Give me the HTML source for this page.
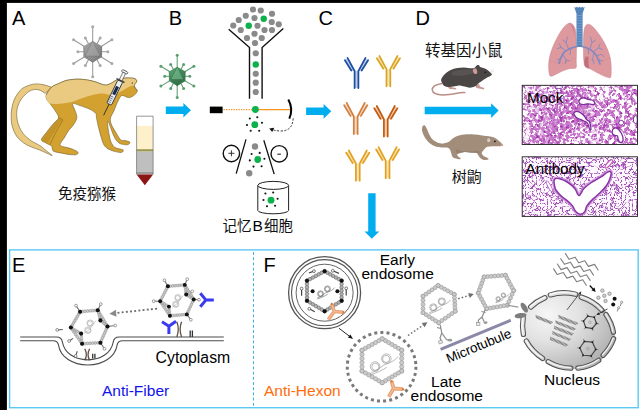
<!DOCTYPE html>
<html><head><meta charset="utf-8"><title>Figure</title>
<style>html,body{margin:0;padding:0;background:#fff;overflow:hidden}svg{display:block}text{font-family:"Liberation Sans","Noto Sans CJK SC",sans-serif}</style>
</head><body>
<svg width="640" height="410" viewBox="0 0 640 410">
<defs>
<linearGradient id="gvir" x1="0" y1="0" x2="1" y2="1"><stop offset="0" stop-color="#9c9c9c"/><stop offset="0.5" stop-color="#7e7e7e"/><stop offset="1" stop-color="#636363"/></linearGradient>
<linearGradient id="grvir" x1="0" y1="0" x2="1" y2="1"><stop offset="0" stop-color="#5fa877"/><stop offset="0.5" stop-color="#44855b"/><stop offset="1" stop-color="#34704a"/></linearGradient>
<radialGradient id="nuc" cx="0.28" cy="0.3" r="0.85"><stop offset="0" stop-color="#f6f6f6"/><stop offset="0.4" stop-color="#e2e2e2"/><stop offset="0.8" stop-color="#bdbdbd"/><stop offset="1" stop-color="#a8a8a8"/></radialGradient>
<linearGradient id="seg" x1="0" y1="0" x2="1" y2="1"><stop offset="0" stop-color="#f2f2f2"/><stop offset="1" stop-color="#c8c8c8"/></linearGradient>
<pattern id="hatch" width="1.3" height="4" patternUnits="userSpaceOnUse"><rect width="1.3" height="4" fill="#c6c6c6"/><rect width="0.75" height="4" fill="#7e7e7e"/></pattern>
<filter id="tex1" x="0" y="0" width="100%" height="100%" color-interpolation-filters="sRGB">
 <feTurbulence type="fractalNoise" baseFrequency="0.36" numOctaves="2" seed="7"/>
 <feColorMatrix type="matrix" values="1 0 0 0 0  1 0 0 0 0  1 0 0 0 0  0 0 0 0 1" result="n"/>
 <feTurbulence type="fractalNoise" baseFrequency="0.03" numOctaves="1" seed="3"/>
 <feColorMatrix type="matrix" values="1 0 0 0 0  1 0 0 0 0  1 0 0 0 0  0 0 0 0 1" result="lo"/>
 <feComposite in="n" in2="lo" operator="arithmetic" k1="0" k2="1" k3="0.4" k4="-0.2" result="mix"/>
 <feColorMatrix in="mix" type="matrix" values="0 0 0 0 1  0 0 0 0 1  0 0 0 0 1  8 0 0 0 -4.02" result="m"/>
 <feComposite in="m" in2="SourceGraphic" operator="in"/>
</filter>
<filter id="tex1b" x="0" y="0" width="100%" height="100%" color-interpolation-filters="sRGB">
 <feTurbulence type="fractalNoise" baseFrequency="0.3" numOctaves="2" seed="11" result="n"/>
 <feColorMatrix in="n" type="matrix" values="0 0 0 0 0.62  0 0 0 0 0.18  0 0 0 0 0.66  0 4 0 0 -1.95" result="m"/>
 <feComposite in="m" in2="SourceGraphic" operator="in"/>
</filter>
<filter id="tex2" x="0" y="0" width="100%" height="100%" color-interpolation-filters="sRGB">
 <feTurbulence type="turbulence" baseFrequency="0.27" numOctaves="1" seed="5" result="n"/>
 <feColorMatrix in="n" type="matrix" values="0 0 0 0 0.64  0 0 0 0 0.31  0 0 0 0 0.72  -10 0 0 0 1.2" result="m"/>
 <feComposite in="m" in2="SourceGraphic" operator="in"/>
</filter>
<filter id="tex1c" x="0" y="0" width="100%" height="100%" color-interpolation-filters="sRGB">
 <feTurbulence type="fractalNoise" baseFrequency="0.2" numOctaves="2" seed="21" result="n"/>
 <feColorMatrix in="n" type="matrix" values="0 0 0 0 1  0 0 0 0 1  0 0 0 0 1  12 0 0 0 -6.3" result="m"/>
 <feComposite in="m" in2="SourceGraphic" operator="in"/>
</filter>
<linearGradient id="fadeR" x1="0" y1="0" x2="1" y2="0"><stop offset="0" stop-color="#fff" stop-opacity="0"/><stop offset="0.45" stop-color="#fff" stop-opacity="1"/><stop offset="1" stop-color="#fff" stop-opacity="1"/></linearGradient>
<linearGradient id="fadeL" x1="0" y1="0" x2="1" y2="0"><stop offset="0" stop-color="#fff" stop-opacity="1"/><stop offset="1" stop-color="#fff" stop-opacity="0"/></linearGradient>
<pattern id="mesh" width="1.5" height="1.5" patternUnits="userSpaceOnUse" patternTransform="rotate(30)"><path d="M0 0 H1.5 M0 0 V1.5" stroke="#e6e6e6" stroke-width="0.35" fill="none"/></pattern>
<linearGradient id="segg" gradientUnits="userSpaceOnUse" x1="530" y1="295" x2="610" y2="368"><stop offset="0" stop-color="#ececec"/><stop offset="0.5" stop-color="#d0d0d0"/><stop offset="1" stop-color="#a9a9a9"/></linearGradient>
</defs>

<rect x="0" y="0" width="640" height="410" fill="#fff"/>
<text x="12" y="25" font-size="20" fill="#000" text-anchor="start" >A</text>
<g stroke="#9a9a9a" stroke-width="1.05" fill="#a8a8a8"><line x1="92.7" y1="51.7" x2="92.7" y2="26.8"/><line x1="92.7" y1="51.7" x2="92.7" y2="76.7"/><line x1="92.7" y1="51.7" x2="73.6" y2="39.7"/><line x1="92.7" y1="51.7" x2="111.9" y2="39.7"/><line x1="92.7" y1="51.7" x2="73.6" y2="63.5"/><line x1="92.7" y1="51.7" x2="111.9" y2="63.5"/><line x1="92.7" y1="51.7" x2="85.4" y2="38.1"/><line x1="92.7" y1="51.7" x2="100.1" y2="38.1"/><line x1="92.7" y1="51.7" x2="85.4" y2="65.4"/><line x1="92.7" y1="51.7" x2="100.1" y2="65.4"/><line x1="92.7" y1="51.7" x2="77.9" y2="51.75"/><line x1="92.7" y1="51.7" x2="107.8" y2="51.75"/><circle cx="92.7" cy="26.8" r="1.5" stroke="none"/><circle cx="92.7" cy="76.7" r="1.5" stroke="none"/><circle cx="73.6" cy="39.7" r="1.5" stroke="none"/><circle cx="111.9" cy="39.7" r="1.5" stroke="none"/><circle cx="73.6" cy="63.5" r="1.5" stroke="none"/><circle cx="111.9" cy="63.5" r="1.5" stroke="none"/><circle cx="85.4" cy="38.1" r="1.5" stroke="none"/><circle cx="100.1" cy="38.1" r="1.5" stroke="none"/><circle cx="85.4" cy="65.4" r="1.5" stroke="none"/><circle cx="100.1" cy="65.4" r="1.5" stroke="none"/><circle cx="77.9" cy="51.75" r="1.5" stroke="none"/><circle cx="107.8" cy="51.75" r="1.5" stroke="none"/></g>
<polygon points="92.7,40.9 102.05,46.3 102.05,57.1 92.7,62.5 83.35,57.1 83.35,46.3" fill="url(#gvir)"/>
<polygon points="92.7,40.9 102.05,46.3 102.05,57.1 92.7,62.5 83.35,57.1 83.35,46.3" fill="url(#mesh)" opacity="0.75"/>
<polygon points="92.7,41.2 85.2,56 100.2,56" fill="#bdbdbd" opacity="0.35"/>
<path d="M92.7 41.2 L85.2 56 L100.2 56 Z M85.2 56 L92.7 62.4 L100.2 56 M85.2 56 L83.4 46.4 M100.2 56 L102 46.4" fill="none" stroke="#5e5e5e" stroke-width="0.35" opacity="0.8"/>
<path d="M51.5 87.2 C50.08 86.77 45.85 85.13 43 84.6 C40.15 84.07 37.23 83.68 34.4 84 C31.57 84.32 28.35 85.45 26 86.5 C23.65 87.55 22.22 88.22 20.3 90.3 C18.38 92.38 15.93 95.88 14.5 99 C13.07 102.12 12.25 105.67 11.7 109 C11.15 112.33 11.07 115.97 11.2 119 C11.33 122.03 11.62 124.37 12.5 127.2 C13.38 130.03 14.68 133.4 16.5 136 C18.32 138.6 20.98 141 23.4 142.8 C25.82 144.6 28.4 145.63 31 146.8 C33.6 147.97 36.5 148.8 39 149.8 C41.5 150.8 43.78 151.83 46 152.8 C48.22 153.77 52.3 155.97 52.3 155.6 C52.3 155.23 47.95 152.2 46 150.6 C44.05 149 42.43 147.27 40.6 146 C38.77 144.73 36.82 144.05 35 143 C33.18 141.95 31.62 141.2 29.7 139.7 C27.78 138.2 25.2 136.08 23.5 134 C21.8 131.92 20.58 129.7 19.5 127.2 C18.42 124.7 17.43 121.87 17 119 C16.57 116.13 16.48 112.83 16.9 110 C17.32 107.17 18.42 104.25 19.5 102 C20.58 99.75 21.9 98.2 23.4 96.5 C24.9 94.8 26.67 92.97 28.5 91.8 C30.33 90.63 32.48 89.75 34.4 89.5 C36.32 89.25 38.18 89.65 40 90.3 C41.82 90.95 44.42 92.88 45.3 93.4Z" fill="#e9ca80" stroke="#6f5f30" stroke-width="0.6" stroke-linejoin="round"/>
<path d="M46.2 95 C46.95 92.92 49.3 89.15 51.5 87.2 C53.7 85.25 56.98 84.42 59.4 83.3 C61.82 82.18 63.67 81.15 66 80.5 C68.33 79.85 71.07 79.62 73.4 79.4 C75.73 79.18 77.65 79.1 80 79.2 C82.35 79.3 84.9 79.55 87.5 80 C90.1 80.45 93.35 81.23 95.6 81.9 C97.85 82.57 99.17 83.48 101 84 C102.83 84.52 104.85 85.17 106.6 85 C108.35 84.83 109.93 83.78 111.5 83 C113.07 82.22 114.33 81.03 116 80.3 C117.67 79.57 119.68 78.98 121.5 78.6 C123.32 78.22 124.83 78.03 126.9 78 C128.97 77.97 132.25 77.9 133.9 78.4 C135.55 78.9 136.75 79.77 136.8 81 C136.85 82.23 134.13 84.22 134.2 85.8 C134.27 87.38 136.93 89.22 137.2 90.5 C137.47 91.78 136.48 92.58 135.8 93.5 C135.12 94.42 134.33 95.32 133.1 96 C131.87 96.68 130.22 97.7 128.4 97.6 C126.58 97.5 123.77 95.17 122.2 95.4 C120.63 95.63 120.03 97.32 119 99 C117.97 100.68 116.9 103.4 116 105.5 C115.1 107.6 114.52 109.52 113.6 111.6 C112.68 113.68 110.9 115.93 110.5 118 C110.1 120.07 110.42 121.79 111.2 124 C111.98 126.21 113.63 128.62 115.2 131.25 C116.77 133.88 118.97 138.24 120.6 139.8 C122.23 141.36 123.45 140.2 125 140.6 C126.55 141 129.45 141.52 129.9 142.2 C130.35 142.88 128.93 144.35 127.7 144.7 C126.47 145.05 123.95 144.58 122.5 144.3 C121.05 144.02 120.12 143.78 119 143 C117.88 142.22 116.8 141.1 115.8 139.6 C114.8 138.1 113.87 136.02 113 134 C112.13 131.98 111.33 129.5 110.6 127.5 C109.87 125.5 109.1 122.98 108.6 122 C108.1 121.02 107.7 120.6 107.6 121.6 C107.5 122.6 107.73 125.77 108 128 C108.27 130.23 108.77 132.83 109.2 135 C109.63 137.17 109.85 139.1 110.6 141 C111.35 142.9 112.47 145.13 113.7 146.4 C114.93 147.67 116.42 148.02 118 148.6 C119.58 149.18 122.63 149.25 123.2 149.9 C123.77 150.55 122.68 152.22 121.4 152.5 C120.12 152.78 117.32 152.02 115.5 151.6 C113.68 151.18 112 150.63 110.5 150 C109 149.37 107.68 148.84 106.5 147.8 C105.32 146.76 104.4 145.88 103.4 143.75 C102.4 141.62 101.37 137.96 100.5 135 C99.63 132.04 98.88 128.97 98.2 126 C97.52 123.03 96.8 119.28 96.4 117.2 C96 115.12 96.87 114.82 95.8 113.5 C94.73 112.18 92.63 110.62 90 109.3 C87.37 107.98 82.9 106.55 80 105.6 C77.1 104.65 73.38 102.67 72.6 103.6 C71.82 104.53 74.6 108.8 75.3 111.2 C76 113.6 77.18 115.62 76.8 118 C76.42 120.38 74.34 123.45 73 125.5 C71.66 127.55 70.17 128.3 68.75 130.3 C67.33 132.3 65.96 135.15 64.5 137.5 C63.04 139.85 60.17 142.85 60 144.4 C59.83 145.95 62.3 146.28 63.5 146.8 C64.7 147.32 65.62 147.07 67.2 147.5 C68.78 147.93 71.23 148.65 73 149.4 C74.77 150.15 77.2 151.13 77.8 152 C78.4 152.87 77.9 154.17 76.6 154.6 C75.3 155.03 72.43 154.83 70 154.6 C67.57 154.37 64.68 153.73 62 153.2 C59.32 152.67 55.53 152.18 53.9 151.4 C52.27 150.62 52.58 149.4 52.2 148.5 C51.82 147.6 52.63 146.92 51.6 146 C50.57 145.08 47.7 144.05 46 143 C44.3 141.95 41.4 141.37 41.4 139.7 C41.4 138.03 44.4 135.2 46 133 C47.6 130.8 49.42 128.42 51 126.5 C52.58 124.58 54.23 123.03 55.5 121.5 C56.77 119.97 58.68 119.13 58.6 117.3 C58.52 115.47 56.43 112.78 55 110.5 C53.57 108.22 51.33 105.4 50 103.6 C48.67 101.8 47.63 101.13 47 99.7 C46.37 98.27 45.45 97.08 46.2 95Z" fill="#d3a130" stroke="#6f5f30" stroke-width="0.6" stroke-linejoin="round"/>
<path d="M58.8 117.5 L62.5 119.5 L52 136 L47.5 143 L51.6 146 L46 143 L41.4 139.7 Z" fill="#b98a24" opacity="0.55"/>
<path d="M58.6 117.3 L63 120 L56 132 L50 144.5" fill="none" stroke="#8a6c1e" stroke-width="0.6"/>
<path d="M46.2 95 C46.95 92.92 49.3 89.15 51.5 87.2 C53.7 85.25 56.98 84.42 59.4 83.3 C61.82 82.18 63.67 81.15 66 80.5 C68.33 79.85 71.07 79.62 73.4 79.4 C75.73 79.18 77.65 79.1 80 79.2 C82.35 79.3 84.9 79.55 87.5 80 C90.1 80.45 93.35 81.23 95.6 81.9 C97.85 82.57 99.17 83.48 101 84 C102.83 84.52 104.85 85.17 106.6 85 C108.35 84.83 109.93 83.78 111.5 83 C113.07 82.22 114.33 81.03 116 80.3 C117.67 79.57 119.68 78.98 121.5 78.6 C123.32 78.22 124.83 78.03 126.9 78 C128.97 77.97 132.25 77.9 133.9 78.4 C135.55 78.9 136.75 79.8 136.8 81 C136.85 82.2 135.08 84.8 134.2 85.6 C133.32 86.4 132.98 85.23 131.5 85.8 C130.02 86.37 127.55 87.8 125.3 89 C123.05 90.2 120.34 92 118 93 C115.66 94 113.42 94.87 111.25 95 C109.08 95.13 106.83 94.03 105 93.8 C103.17 93.57 102.47 93.37 100.3 93.6 C98.13 93.83 94.72 94.55 92 95.2 C89.28 95.85 86.67 96.62 84 97.5 C81.33 98.38 78.28 99.7 76 100.5 C73.72 101.3 72.97 101.75 70.3 102.3 C67.63 102.85 63.38 103.58 60 103.8 C56.62 104.02 52.17 104.28 50 103.6 C47.83 102.92 47.63 101.13 47 99.7 C46.37 98.27 45.45 97.08 46.2 95Z" fill="#e9ca80"/>
<path d="M46.2 95 C47.08 93.7 49.3 89.15 51.5 87.2 C53.7 85.25 56.98 84.42 59.4 83.3 C61.82 82.18 63.67 81.15 66 80.5 C68.33 79.85 71.07 79.62 73.4 79.4 C75.73 79.18 77.65 79.1 80 79.2 C82.35 79.3 84.9 79.55 87.5 80 C90.1 80.45 93.35 81.23 95.6 81.9 C97.85 82.57 99.17 83.48 101 84 C102.83 84.52 104.85 85.17 106.6 85 C108.35 84.83 109.93 83.78 111.5 83 C113.07 82.22 114.33 81.03 116 80.3 C117.67 79.57 119.68 78.98 121.5 78.6 C123.32 78.22 124.83 78.03 126.9 78 C128.97 77.97 132.25 77.9 133.9 78.4 C135.55 78.9 136.75 79.77 136.8 81 C136.85 82.23 134.13 84.22 134.2 85.8 C134.27 87.38 136.7 89.72 137.2 90.5" fill="none" stroke="#6f5f30" stroke-width="0.6"/>
<circle cx="132.3" cy="83" r="0.7" fill="#5a4a20"/>
<g transform="translate(124.8,71.7) rotate(25.9)"><line x1="0" y1="36" x2="0" y2="48.5" stroke="#2a2a2a" stroke-width="0.8"/><rect x="-3.2" y="-1" width="6.4" height="2.4" rx="1.1" fill="#eef2f8" stroke="#3a3a3a" stroke-width="0.7"/><rect x="-1.5" y="1.3" width="3" height="9" fill="#f4f6fa" stroke="#444" stroke-width="0.6"/><rect x="-4.6" y="9.1" width="9.2" height="1.5" rx="0.7" fill="#444"/><rect x="-2.6" y="10.4" width="5.2" height="25.6" rx="1.2" fill="#e9eff7" stroke="#2a2a2a" stroke-width="0.8"/><rect x="-1.6" y="16.5" width="3.2" height="9" fill="#1d2a4a"/><g stroke="#2a3350" stroke-width="0.6"><line x1="-1.8" y1="28" x2="0.8" y2="28"/><line x1="-1.8" y1="30" x2="0.8" y2="30"/><line x1="-1.8" y1="32" x2="0.8" y2="32"/><line x1="-1.8" y1="34" x2="0.8" y2="34"/></g></g>
<g><rect x="136.6" y="116.2" width="16.5" height="58.2" fill="#fff"/><rect x="136.6" y="125.8" width="16.5" height="23.6" fill="#fdf0cb"/><rect x="136.6" y="149.2" width="16.5" height="2.4" fill="#9b9a4e"/><rect x="136.6" y="151.6" width="16.5" height="20.6" fill="#bfbfbf"/><rect x="136.6" y="172" width="16.5" height="2.4" fill="#9c9c9c"/><polygon points="136.6,174.4 153.1,174.4 144.85,185.2" fill="#8c1515"/><path d="M136.6 174.4 V116.2 H153.1 V174.4" fill="none" stroke="#6a6a6a" stroke-width="0.7"/></g>
<text x="58" y="198.5" font-size="14.5" fill="#111" text-anchor="start">免疫猕猴</text>
<polygon points="165.8,106.45 183.4,106.45 183.4,102.9 190.9,110.2 183.4,117.5 183.4,113.95 165.8,113.95" fill="#00aeef"/>
<text x="168.8" y="25" font-size="20" fill="#000" text-anchor="start" >B</text>
<g stroke="#5b9f70" stroke-width="1.05" fill="#5b9f70"><line x1="177.2" y1="76.3" x2="177.2" y2="55.3"/><line x1="177.2" y1="76.3" x2="177.2" y2="97.5"/><line x1="177.2" y1="76.3" x2="160.9" y2="66.2"/><line x1="177.2" y1="76.3" x2="193.9" y2="66.2"/><line x1="177.2" y1="76.3" x2="160.9" y2="86.1"/><line x1="177.2" y1="76.3" x2="193.9" y2="86.1"/><line x1="177.2" y1="76.3" x2="170.7" y2="64.4"/><line x1="177.2" y1="76.3" x2="183.6" y2="64.4"/><line x1="177.2" y1="76.3" x2="170.7" y2="88.5"/><line x1="177.2" y1="76.3" x2="183.6" y2="88.5"/><line x1="177.2" y1="76.3" x2="164.7" y2="76.3"/><line x1="177.2" y1="76.3" x2="189.8" y2="76.3"/><circle cx="177.2" cy="55.3" r="1.5" stroke="none"/><circle cx="177.2" cy="97.5" r="1.5" stroke="none"/><circle cx="160.9" cy="66.2" r="1.5" stroke="none"/><circle cx="193.9" cy="66.2" r="1.5" stroke="none"/><circle cx="160.9" cy="86.1" r="1.5" stroke="none"/><circle cx="193.9" cy="86.1" r="1.5" stroke="none"/><circle cx="170.7" cy="64.4" r="1.5" stroke="none"/><circle cx="183.6" cy="64.4" r="1.5" stroke="none"/><circle cx="170.7" cy="88.5" r="1.5" stroke="none"/><circle cx="183.6" cy="88.5" r="1.5" stroke="none"/><circle cx="164.7" cy="76.3" r="1.5" stroke="none"/><circle cx="189.8" cy="76.3" r="1.5" stroke="none"/></g>
<polygon points="177.2,66.7 185.51,71.5 185.51,81.1 177.2,85.9 168.89,81.1 168.89,71.5" fill="url(#grvir)"/>
<polygon points="177.2,67 171,79.5 183.4,79.5" fill="#7cc394" opacity="0.55"/>
<polygon points="177.2,85.8 171,79.5 183.4,79.5" fill="#2f6b45" opacity="0.5"/>
<g stroke="#2d6040" stroke-width="0.4" fill="none" opacity="0.7"><polygon points="177.2,67 171,79.5 183.4,79.5"/><line x1="171" y1="79.5" x2="168.9" y2="71.5"/><line x1="183.4" y1="79.5" x2="185.5" y2="71.5"/><line x1="171" y1="79.5" x2="177.2" y2="85.8"/><line x1="183.4" y1="79.5" x2="177.2" y2="85.8"/></g>
<path d="M228.7 29.3 L249.5 47.5 V98.8 M283.3 28.6 L262.1 47.5 V98.8" fill="none" stroke="#111" stroke-width="1.4" stroke-linejoin="miter"/>
<g fill="#8a8a8a"><circle cx="253" cy="9.5" r="3.1"/><circle cx="260.75" cy="10.5" r="3.1"/><circle cx="272" cy="13.75" r="3.1"/><circle cx="245.75" cy="15.75" r="3.1"/><circle cx="254.5" cy="18" r="3.1"/><circle cx="238.75" cy="20" r="3.1"/><circle cx="271.75" cy="22" r="3.1"/><circle cx="233.25" cy="25.5" r="3.1"/><circle cx="257.5" cy="25.75" r="3.1"/><circle cx="278.75" cy="24.25" r="3.1"/><circle cx="240.75" cy="30" r="3.1"/><circle cx="264.5" cy="30" r="3.1"/><circle cx="272" cy="30" r="3.1"/><circle cx="254.5" cy="33.75" r="3.1"/><circle cx="247" cy="38" r="3.1"/><circle cx="261.75" cy="38" r="3.1"/><circle cx="255" cy="43" r="3.1"/><circle cx="255.75" cy="53.25" r="3.1"/><circle cx="255.75" cy="73.75" r="3.1"/><circle cx="255.75" cy="82.7" r="3.1"/><circle cx="255.75" cy="92" r="3.1"/></g>
<g fill="#0db14b"><circle cx="263.75" cy="18.75" r="3.2"/><circle cx="248.75" cy="25.75" r="3.2"/><circle cx="255.75" cy="64.5" r="3.2"/></g>
<rect x="209.8" y="106.6" width="12.8" height="6.6" fill="#000"/>
<line x1="223.5" y1="109.6" x2="252" y2="109.6" stroke="#f7941d" stroke-width="1.3" stroke-dasharray="1.3 1.2"/>
<line x1="256" y1="109.6" x2="291.5" y2="109.6" stroke="#f7941d" stroke-width="1.3"/>
<circle cx="255.4" cy="109.5" r="3.4" fill="#0db14b"/>
<path d="M288.3 99.6 Q293.6 109 289.3 118.6" fill="none" stroke="#000" stroke-width="2"/>
<path d="M293.2 118.3 Q292.5 131.5 280 131 Q274.5 130.6 272.5 129.6" fill="none" stroke="#222" stroke-width="0.9" stroke-dasharray="2.2 1.4"/>
<polygon points="269.2,128.4 274.2,127.8 272.2,132" fill="#111"/>
<circle cx="254.8" cy="124.7" r="3.4" fill="#0db14b"/>
<g fill="#111"><circle cx="249.8" cy="118.5" r="1.05"/><circle cx="257.3" cy="117.2" r="1.05"/><circle cx="262" cy="122.8" r="1.05"/><circle cx="247" cy="125" r="1.05"/><circle cx="250.7" cy="130.7" r="1.05"/><circle cx="259.2" cy="130.7" r="1.05"/></g>
<path d="M246 139.4 L236.2 173.6 M263.8 140.3 L274.2 174.1" stroke="#111" stroke-width="1.3" fill="none"/>
<circle cx="231.4" cy="153.5" r="8.2" fill="#fff" stroke="#111" stroke-width="1.4"/>
<circle cx="279.2" cy="153.8" r="8.2" fill="#fff" stroke="#111" stroke-width="1.4"/>
<path d="M228.4 153.3 H234.4 M231.4 150.3 V156.3" stroke="#222" stroke-width="0.9"/>
<path d="M277.3 154.2 H280.9" stroke="#222" stroke-width="1.1"/>
<circle cx="255" cy="146.5" r="3.2" fill="#8a8a8a"/>
<circle cx="257.7" cy="159.5" r="3.4" fill="#0db14b"/>
<g fill="#111"><circle cx="251.6" cy="154" r="1.05"/><circle cx="259.7" cy="152.9" r="1.05"/><circle cx="264.4" cy="158.7" r="1.05"/><circle cx="249.8" cy="160.4" r="1.05"/><circle cx="253.5" cy="166.6" r="1.05"/><circle cx="261.6" cy="166.2" r="1.05"/></g>
<circle cx="249.2" cy="173.2" r="3.2" fill="#8a8a8a"/>
<path d="M257.8 185.4 V210.4 A15.4 3.4 0 0 0 288.6 210.4 V185.4" fill="#fff" stroke="#222" stroke-width="1"/>
<ellipse cx="273.2" cy="185.4" rx="15.4" ry="4" fill="#fff" stroke="#222" stroke-width="1"/>
<circle cx="271" cy="200.2" r="3.4" fill="#0db14b"/>
<g fill="#111"><circle cx="265.4" cy="193.5" r="1.05"/><circle cx="273.2" cy="192.5" r="1.05"/><circle cx="277.6" cy="198.7" r="1.05"/><circle cx="263.5" cy="200" r="1.05"/><circle cx="267" cy="206.2" r="1.05"/><circle cx="275.1" cy="205.7" r="1.05"/></g>
<text x="222.6" y="231.2" font-size="14.5" fill="#111" text-anchor="start">记忆</text>
<text x="252.6" y="231.2" font-size="15.5" fill="#000" text-anchor="start" >B</text>
<text x="264" y="231.2" font-size="14.5" fill="#111" text-anchor="start">细胞</text>
<polygon points="306.1,107.6 323.6,107.6 323.6,104.05 331.3,111.35 323.6,118.65 323.6,115.1 306.1,115.1" fill="#00aeef"/>
<text x="318.4" y="25" font-size="20" fill="#000" text-anchor="start" >C</text>
<g stroke="#1f4fa3" stroke-width="3.6" fill="none" opacity="0.28"><path d="M356.5 88.1 V71.04"/><path d="M353 70.84 L346.2 59.1"/><path d="M360 70.84 L366.8 59.1"/></g><g stroke="#1f4fa3" stroke-width="1.75" fill="none" stroke-linecap="round"><path d="M354.6 88.1 V71.04 L347.5 57.9"/><path d="M358.4 88.1 V71.04 L365.5 57.9"/><path d="M351.3 70.44 L344.9 60.2"/><path d="M361.7 70.44 L368.1 60.2"/></g>
<g stroke="#dba521" stroke-width="3.6" fill="none" opacity="0.28"><path d="M388.4 86.3 V69.18"/><path d="M384.9 68.98 L378.1 57.2"/><path d="M391.9 68.98 L398.7 57.2"/></g><g stroke="#dba521" stroke-width="1.75" fill="none" stroke-linecap="round"><path d="M386.5 86.3 V69.18 L379.4 56"/><path d="M390.3 86.3 V69.18 L397.4 56"/><path d="M383.2 68.58 L376.8 58.3"/><path d="M393.6 68.58 L400 58.3"/></g>
<g stroke="#d2803f" stroke-width="3.6" fill="none" opacity="0.28"><path d="M355.7 134.1 V116.47"/><path d="M352.2 116.27 L345.4 104.1"/><path d="M359.2 116.27 L366 104.1"/></g><g stroke="#d2803f" stroke-width="1.75" fill="none" stroke-linecap="round"><path d="M353.8 134.1 V116.47 L346.7 102.9"/><path d="M357.6 134.1 V116.47 L364.7 102.9"/><path d="M350.5 115.87 L344.1 105.2"/><path d="M360.9 115.87 L367.3 105.2"/></g>
<g stroke="#c45c10" stroke-width="3.6" fill="none" opacity="0.28"><path d="M385.8 136.5 V119.27"/><path d="M382.3 119.07 L375.5 107.2"/><path d="M389.3 119.07 L396.1 107.2"/></g><g stroke="#c45c10" stroke-width="1.75" fill="none" stroke-linecap="round"><path d="M383.9 136.5 V119.27 L376.8 106"/><path d="M387.7 136.5 V119.27 L394.8 106"/><path d="M380.6 118.67 L374.2 108.3"/><path d="M391 118.67 L397.4 108.3"/></g>
<g stroke="#e3a21e" stroke-width="3.6" fill="none" opacity="0.28"><path d="M357.8 180.7 V163.58"/><path d="M354.3 163.38 L347.5 151.6"/><path d="M361.3 163.38 L368.1 151.6"/></g><g stroke="#e3a21e" stroke-width="1.75" fill="none" stroke-linecap="round"><path d="M355.9 180.7 V163.58 L348.8 150.4"/><path d="M359.7 180.7 V163.58 L366.8 150.4"/><path d="M352.6 162.98 L346.2 152.7"/><path d="M363 162.98 L369.4 152.7"/></g>
<g stroke="#e3a21e" stroke-width="3.6" fill="none" opacity="0.28"><path d="M387.6 178.2 V160.63"/><path d="M384.1 160.43 L377.3 148.3"/><path d="M391.1 160.43 L397.9 148.3"/></g><g stroke="#e3a21e" stroke-width="1.75" fill="none" stroke-linecap="round"><path d="M385.7 178.2 V160.63 L378.6 147.1"/><path d="M389.5 178.2 V160.63 L396.6 147.1"/><path d="M382.4 160.03 L376 149.4"/><path d="M392.8 160.03 L399.2 149.4"/></g>
<polygon points="368.2,193.2 375.6,193.2 375.6,231.4 379.3,231.4 371.8,238.8 364.5,231.4 368.2,231.4" fill="#00aeef"/>
<text x="415.6" y="25" font-size="20" fill="#000" text-anchor="start" >D</text>
<text x="425" y="56.3" font-size="15.5" fill="#111" text-anchor="start">转基因小鼠</text>
<path d="M442 83.5 C436 84.5 431.8 87 432.3 90.2 C433 94 439 95.3 446 94.8 C453 94.3 459 92.3 464.8 92.6" fill="none" stroke="#b98d86" stroke-width="1.5" stroke-linecap="round"/>
<path d="M446.5 85.5 L449.5 89 L456.5 89.6 L456 88 L452 87.2 L451 85 Z" fill="#c49a92"/>
<path d="M474.5 84.5 L476.5 88 L484 89.6 L484.3 88 L480 86.6 L479 84 Z" fill="#c49a92"/>
<path d="M441.1 80 C441.23 78.6 442.27 76.97 443.5 75.5 C444.73 74.03 446.43 72.4 448.5 71.2 C450.57 70 453.32 68.93 455.9 68.3 C458.48 67.67 461.38 67.4 464 67.4 C466.62 67.4 469.85 68.23 471.6 68.3 C473.35 68.37 473.6 68.32 474.5 67.8 C475.4 67.28 476.22 65.6 477 65.2 C477.78 64.8 478.67 65.12 479.2 65.4 C479.73 65.68 479.48 66.48 480.2 66.9 C480.92 67.32 482.33 67.42 483.5 67.9 C484.67 68.38 486.12 69.08 487.2 69.8 C488.28 70.52 489.22 71.42 490 72.2 C490.78 72.98 491.98 73.77 491.9 74.5 C491.82 75.23 490.55 75.95 489.5 76.6 C488.45 77.25 486.93 77.63 485.6 78.4 C484.27 79.17 482.8 80.28 481.5 81.2 C480.2 82.12 478.97 83 477.8 83.9 C476.63 84.8 475.8 85.95 474.5 86.6 C473.2 87.25 471.67 87.8 470 87.8 C468.33 87.8 466.33 86.98 464.5 86.6 C462.67 86.22 460.83 85.5 459 85.5 C457.17 85.5 455.32 86.35 453.5 86.6 C451.68 86.85 449.6 87.1 448.1 87 C446.6 86.9 445.4 86.52 444.5 86 C443.6 85.48 443.27 84.9 442.7 83.9 C442.13 82.9 440.97 81.4 441.1 80Z" fill="#4b4646"/>
<ellipse cx="463" cy="72.5" rx="12" ry="3" fill="#6a6464" opacity="0.45" transform="rotate(-6 463 72.5)"/>
<ellipse cx="475.1" cy="71.2" rx="2.1" ry="2.9" fill="#cf9a96" transform="rotate(-15 475.1 71.2)"/>
<circle cx="485.2" cy="72.3" r="0.8" fill="#111"/>
<path d="M490.5 72 L493.5 68.5 M490.8 72.8 L494.2 70.8" stroke="#bbb" stroke-width="0.4"/>
<polygon points="424.7,106.85 491.1,106.85 491.1,103.2 498.6,110.6 491.1,118 491.1,114.35 424.7,114.35" fill="#00aeef"/>
<path d="M422.9 125.7 C423.37 125.18 424.15 124.9 424.8 125.4 C425.45 125.9 426.13 127.35 426.8 128.7 C427.47 130.05 427.98 131.88 428.8 133.5 C429.62 135.12 430.5 137.02 431.7 138.4 C432.9 139.78 434.37 140.93 436 141.8 C437.63 142.67 439.83 143.43 441.5 143.6 C443.17 143.77 444.7 143.17 446 142.8 C447.3 142.43 448.05 142.2 449.3 141.4 C450.55 140.6 451.88 138.98 453.5 138 C455.12 137.02 456.83 136.12 459 135.5 C461.17 134.88 463.88 134.47 466.5 134.3 C469.12 134.13 472.28 134.35 474.7 134.5 C477.12 134.65 479.05 134.93 481 135.2 C482.95 135.47 484.82 135.9 486.4 136.1 C487.98 136.3 489.2 136.17 490.5 136.4 C491.8 136.63 492.87 136.82 494.2 137.5 C495.53 138.18 497.03 139.2 498.5 140.5 C499.97 141.8 502.92 144.33 503 145.3 C503.08 146.27 500.47 146.13 499 146.3 C497.53 146.47 495.7 146.25 494.2 146.3 C492.7 146.35 491.3 146.45 490 146.6 C488.7 146.75 487.48 146.58 486.4 147.2 C485.32 147.82 484.28 149.25 483.5 150.3 C482.72 151.35 481.53 152.45 481.7 153.5 C481.87 154.55 483.38 155.75 484.5 156.6 C485.62 157.45 487.9 158.07 488.4 158.6 C488.9 159.13 488.48 159.67 487.5 159.8 C486.52 159.93 483.92 159.97 482.5 159.4 C481.08 158.83 479.98 157.47 479 156.4 C478.02 155.33 478.02 153.6 476.6 153 C475.18 152.4 472.43 152.95 470.5 152.8 C468.57 152.65 466.62 152.13 465 152.1 C463.38 152.07 462.08 152.28 460.8 152.6 C459.52 152.92 457.73 153.35 457.3 154 C456.87 154.65 457.65 155.8 458.2 156.5 C458.75 157.2 460.47 157.75 460.6 158.2 C460.73 158.65 460.23 159.3 459 159.2 C457.77 159.1 454.48 158.55 453.2 157.6 C451.92 156.65 451.78 154.73 451.3 153.5 C450.82 152.27 450.77 151.12 450.3 150.2 C449.83 149.28 449.38 148.43 448.5 148 C447.62 147.57 446.17 147.7 445 147.6 C443.83 147.5 443.17 147.63 441.5 147.4 C439.83 147.17 436.95 146.88 435 146.2 C433.05 145.52 431.38 144.58 429.8 143.3 C428.22 142.02 426.7 140.28 425.5 138.5 C424.3 136.72 423.18 134.27 422.6 132.6 C422.02 130.93 421.95 129.65 422 128.5 C422.05 127.35 422.43 126.22 422.9 125.7Z" fill="#a28d7b"/>
<path d="M455 149 C461 151.8 470 152.2 478 150.5 L481 153 L476.6 153 L465 152.1 L457.3 154 Z" fill="#8f7b6a" opacity="0.7"/>
<ellipse cx="488.7" cy="140.2" rx="1.6" ry="2" fill="#d8ccc0"/>
<circle cx="494.9" cy="141.3" r="0.9" fill="#111"/>
<circle cx="502" cy="145" r="0.9" fill="#e59aa0"/>
<text x="451.8" y="182.2" font-size="15" fill="#111" text-anchor="start">树鼩</text>
<path d="M568.5 23.4 C569.75 22.83 570.55 23.08 571.5 23.6 C572.45 24.12 573.52 25.27 574.2 26.5 C574.88 27.73 575.27 28.75 575.6 31 C575.93 33.25 576.07 36.5 576.2 40 C576.33 43.5 576.4 48.33 576.4 52 C576.4 55.67 576.27 59.37 576.2 62 C576.13 64.63 577.03 66.7 576 67.8 C574.97 68.9 572.25 68.07 570 68.6 C567.75 69.13 564.83 70.05 562.5 71 C560.17 71.95 557.83 73.42 556 74.3 C554.17 75.18 552.57 76.18 551.5 76.3 C550.43 76.42 550.05 76.05 549.6 75 C549.15 73.95 548.95 71.83 548.8 70 C548.65 68.17 548.57 66.17 548.7 64 C548.83 61.83 549.05 59.5 549.6 57 C550.15 54.5 551.02 51.67 552 49 C552.98 46.33 554.25 43.58 555.5 41 C556.75 38.42 558.08 35.83 559.5 33.5 C560.92 31.17 562.5 28.68 564 27 C565.5 25.32 567.25 23.97 568.5 23.4Z" fill="#dd999e" stroke="#c9808a" stroke-width="0.5"/>
<path d="M587.2 24.4 C588.03 24.12 588.98 24.12 590.2 24.8 C591.42 25.48 592.95 26.8 594.5 28.5 C596.05 30.2 597.83 32.58 599.5 35 C601.17 37.42 603 40.17 604.5 43 C606 45.83 607.48 49.17 608.5 52 C609.52 54.83 610.15 57.17 610.6 60 C611.05 62.83 611.17 66.2 611.2 69 C611.23 71.8 611.23 75.37 610.8 76.8 C610.37 78.23 609.9 77.8 608.6 77.6 C607.3 77.4 605.1 76.53 603 75.6 C600.9 74.67 598.17 73.13 596 72 C593.83 70.87 591.78 69.67 590 68.8 C588.22 67.93 586.33 68.27 585.3 66.8 C584.27 65.33 584.1 62.8 583.8 60 C583.5 57.2 583.55 53.33 583.5 50 C583.45 46.67 583.42 43.17 583.5 40 C583.58 36.83 583.72 33.25 584 31 C584.28 28.75 584.67 27.6 585.2 26.5 C585.73 25.4 586.37 24.68 587.2 24.4Z" fill="#dd999e" stroke="#c9808a" stroke-width="0.5"/>
<path d="M570 23.8 C573 25.5 574.6 29 575.3 36 C573.6 31.5 572.5 28 570 23.8Z" fill="#c9808a"/>
<path d="M585.6 56.5 C583.8 60.5 583.8 64.5 585.4 66.8 L589.4 68.6 C588.2 64.5 588.2 60 588.9 56.8Z" fill="#c26f7d"/>
<path d="M549.5 60 C556 64.5 566 64 576 57.5 M584 56 C592 62 602 62 610.6 58" fill="none" stroke="#cf8690" stroke-width="0.5"/>
<path d="M574.1 6.7 L575.5 7.8 L576.8 6.7 L578.1 7.8 L579.5 6.7 L580.9 7.8 L582.2 6.7 L583.5 7.8 L584.8 6.7 L582.6 13.5 V47 H576.5 V13.5 Z" fill="#5384ba"/>
<g stroke="#8db0d8" stroke-width="0.55"><line x1="576.7" y1="15.5" x2="582.4" y2="15.5"/><line x1="576.7" y1="18.1" x2="582.4" y2="18.1"/><line x1="576.7" y1="20.7" x2="582.4" y2="20.7"/><line x1="576.7" y1="23.3" x2="582.4" y2="23.3"/><line x1="576.7" y1="25.9" x2="582.4" y2="25.9"/><line x1="576.7" y1="28.5" x2="582.4" y2="28.5"/><line x1="576.7" y1="31.1" x2="582.4" y2="31.1"/><line x1="576.7" y1="33.7" x2="582.4" y2="33.7"/><line x1="576.7" y1="36.3" x2="582.4" y2="36.3"/><line x1="576.7" y1="38.9" x2="582.4" y2="38.9"/><line x1="576.7" y1="41.5" x2="582.4" y2="41.5"/><line x1="576.7" y1="44.1" x2="582.4" y2="44.1"/></g>
<g stroke="#8388c0" fill="none" stroke-linecap="round" stroke-linejoin="round"><path d="M577.5 46.5 C572 47.5 567 49 563.5 53 C561 56.5 560 60 559 63.5" stroke-width="1.7"/><path d="M568.5 48.5 L566 42.5 L567.5 37 M566 42.5 L562.5 40 M565.5 50.5 L561 47.5 L559.5 44 M561 47.5 L557.5 48.5 M562.5 54.5 L566 59.5 L565.5 63.5 M566 59.5 L569 61 M560.5 58.5 L557 60 M571 48 L570 54.5" stroke-width="0.9"/><path d="M581.8 46.5 C587 47.5 591.5 49.5 595 53.5 C597.5 57 599 60.5 600 64" stroke-width="1.7"/><path d="M590 48.8 L592 42.5 L590.5 37 M592 42.5 L595.5 40 M593.5 51.5 L598.5 48 L600 44 M598.5 48 L602.5 49.5 M596.5 55.5 L601.5 54.5 L604 56.5 M597.8 59 L602.5 61.5 M594 52.5 L592.5 59.5 L594 63.5 M588 48 L588.5 54" stroke-width="0.9"/></g>
<g><rect x="522.2" y="85.3" width="115.3" height="59.2" fill="#c979cc"/><rect x="522.2" y="85.3" width="115.3" height="59.2" fill="#a13aa8" filter="url(#tex1b)"/><rect x="522.2" y="85.3" width="115.3" height="59.2" fill="#fff" filter="url(#tex1)"/></g>
<rect x="575" y="85.3" width="62.5" height="59.2" fill="url(#fadeR)" filter="url(#tex1c)"/>
<rect x="522.2" y="85.3" width="40" height="59.2" fill="url(#fadeL)" filter="url(#tex1c)"/>
<path d="M579.2 100.5 C579.53 99.78 580.12 98.72 581 98.3 C581.88 97.88 583.33 97.83 584.5 98 C585.67 98.17 586.75 98.97 588 99.3 C589.25 99.63 590.93 99.58 592 100 C593.07 100.42 593.97 101.13 594.4 101.8 C594.83 102.47 595 103.53 594.6 104 C594.2 104.47 593.1 104.63 592 104.6 C590.9 104.57 589.33 103.8 588 103.8 C586.67 103.8 585.23 104.53 584 104.6 C582.77 104.67 581.43 104.53 580.6 104.2 C579.77 103.87 579.23 103.22 579 102.6 C578.77 101.98 578.87 101.22 579.2 100.5Z" fill="#fff" stroke="#7d2c9c" stroke-width="1.3" stroke-linejoin="round"/>
<path d="M573.8 113.2 C573.88 112.35 575.05 111.67 576 111.5 C576.95 111.33 578.42 111.73 579.5 112.2 C580.58 112.67 581.58 113.5 582.5 114.3 C583.42 115.1 584.32 116.12 585 117 C585.68 117.88 585.87 118.83 586.6 119.6 C587.33 120.37 588.73 120.53 589.4 121.6 C590.07 122.67 590.37 124.68 590.6 126 C590.83 127.32 590.98 128.95 590.8 129.5 C590.62 130.05 589.87 129.97 589.5 129.3 C589.13 128.63 589.02 126.62 588.6 125.5 C588.18 124.38 587.77 123.35 587 122.6 C586.23 121.85 584.92 121.47 584 121 C583.08 120.53 582.42 120.17 581.5 119.8 C580.58 119.43 579.5 119.33 578.5 118.8 C577.5 118.27 576.28 117.53 575.5 116.6 C574.72 115.67 573.72 114.05 573.8 113.2Z" fill="#fff" stroke="#7d2c9c" stroke-width="1.3" stroke-linejoin="round"/>
<path d="M612.2 131.5 C612.28 130.52 612.78 129.18 613.5 128.6 C614.22 128.02 615.58 127.77 616.5 128 C617.42 128.23 618.17 129.08 619 130 C619.83 130.92 620.83 132.17 621.5 133.5 C622.17 134.83 622.82 136.67 623 138 C623.18 139.33 623.1 140.78 622.6 141.5 C622.1 142.22 620.73 142.63 620 142.3 C619.27 141.97 618.62 140.55 618.2 139.5 C617.78 138.45 617.95 136.65 617.5 136 C617.05 135.35 616.25 135.85 615.5 135.6 C614.75 135.35 613.55 135.18 613 134.5 C612.45 133.82 612.12 132.48 612.2 131.5Z" fill="#fff" stroke="#7d2c9c" stroke-width="1.3" stroke-linejoin="round"/>
<path d="M618.8 122.5 C618.98 121.82 619.8 120.65 620.5 120.4 C621.2 120.15 622.48 120.47 623 121 C623.52 121.53 623.85 122.93 623.6 123.6 C623.35 124.27 622.2 124.85 621.5 125 C620.8 125.15 619.85 124.92 619.4 124.5 C618.95 124.08 618.62 123.18 618.8 122.5Z" fill="#fff" stroke="#7d2c9c" stroke-width="1" stroke-linejoin="round"/>
<path d="M633.6 118 C633.9 117.05 634.83 115.97 635.4 115.8 C635.97 115.63 636.73 115.88 637 117 C637.27 118.12 637.33 121.42 637 122.5 C636.67 123.58 635.57 123.67 635 123.5 C634.43 123.33 633.83 122.42 633.6 121.5 C633.37 120.58 633.3 118.95 633.6 118Z" fill="#fff" stroke="#7d2c9c" stroke-width="1" stroke-linejoin="round"/>
<ellipse cx="559" cy="87" rx="4" ry="1.5" fill="#fff" stroke="#7d2c9c" stroke-width="0.8"/>
<rect x="522.2" y="85.3" width="115.3" height="59.2" fill="none" stroke="#222" stroke-width="0.9"/>
<text x="527" y="102.6" font-size="15.2" fill="#000" text-anchor="start" >Mock</text>
<g><rect x="522.2" y="156.8" width="115.3" height="59.6" fill="#fcf8fd"/><rect x="522.2" y="156.8" width="115.3" height="59.6" fill="#a954b8" filter="url(#tex2)"/></g>
<path d="M554.4 179.4 C555.28 178.4 557.43 178.18 559.7 178.7 C561.97 179.22 565.48 180.87 568 182.5 C570.52 184.13 572.97 186.32 574.8 188.5 C576.63 190.68 577.48 195.6 579 195.6 C580.52 195.6 581.83 190.68 583.9 188.5 C585.97 186.32 588.63 184.38 591.4 182.5 C594.17 180.62 597.73 178.97 600.5 177.2 C603.27 175.43 606.23 172.67 608 171.9 C609.77 171.13 610.78 171.47 611.1 172.6 C611.42 173.73 610.67 176.55 609.9 178.7 C609.13 180.85 608.07 183.23 606.5 185.5 C604.93 187.77 602.77 190.03 600.5 192.3 C598.23 194.57 595.17 196.83 592.9 199.1 C590.63 201.37 588.28 203.75 586.9 205.9 C585.52 208.05 585.73 210.62 584.6 212 C583.47 213.38 581.62 214.33 580.1 214.2 C578.58 214.07 576.77 212.58 575.5 211.2 C574.23 209.82 573.75 207.53 572.5 205.9 C571.25 204.27 569.88 203.03 568 201.4 C566.12 199.77 563.22 198 561.2 196.1 C559.18 194.2 557.03 191.9 555.9 190 C554.77 188.1 554.65 186.47 554.4 184.7 C554.15 182.93 553.52 180.4 554.4 179.4Z" fill="none" stroke="#c98ad6" stroke-width="4" stroke-linejoin="round" opacity="0.8"/>
<path d="M554.4 179.4 C555.28 178.4 557.43 178.18 559.7 178.7 C561.97 179.22 565.48 180.87 568 182.5 C570.52 184.13 572.97 186.32 574.8 188.5 C576.63 190.68 577.48 195.6 579 195.6 C580.52 195.6 581.83 190.68 583.9 188.5 C585.97 186.32 588.63 184.38 591.4 182.5 C594.17 180.62 597.73 178.97 600.5 177.2 C603.27 175.43 606.23 172.67 608 171.9 C609.77 171.13 610.78 171.47 611.1 172.6 C611.42 173.73 610.67 176.55 609.9 178.7 C609.13 180.85 608.07 183.23 606.5 185.5 C604.93 187.77 602.77 190.03 600.5 192.3 C598.23 194.57 595.17 196.83 592.9 199.1 C590.63 201.37 588.28 203.75 586.9 205.9 C585.52 208.05 585.73 210.62 584.6 212 C583.47 213.38 581.62 214.33 580.1 214.2 C578.58 214.07 576.77 212.58 575.5 211.2 C574.23 209.82 573.75 207.53 572.5 205.9 C571.25 204.27 569.88 203.03 568 201.4 C566.12 199.77 563.22 198 561.2 196.1 C559.18 194.2 557.03 191.9 555.9 190 C554.77 188.1 554.65 186.47 554.4 184.7 C554.15 182.93 553.52 180.4 554.4 179.4Z" fill="#fff" stroke="#8a35a6" stroke-width="1.5" stroke-linejoin="round"/>
<ellipse cx="608.8" cy="163.9" rx="1.7" ry="5.3" fill="#fff" stroke="#c565bd" stroke-width="1.3" transform="rotate(42 608.8 163.9)"/>
<ellipse cx="549.4" cy="186.2" rx="1.5" ry="6" fill="#fff" stroke="#b76fc6" stroke-width="0.9" transform="rotate(-28 549.4 186.2)"/>
<rect x="522.2" y="156.8" width="115.3" height="59.6" fill="none" stroke="#222" stroke-width="0.9"/>
<text x="525.5" y="174.4" font-size="15.2" fill="#000" text-anchor="start" >Antibody</text>
<rect x="9.6" y="249.9" width="628.6" height="157.8" fill="none" stroke="#5cc8f4" stroke-width="1.4"/>
<line x1="253.5" y1="252" x2="253.5" y2="406" stroke="#29abe2" stroke-width="0.9" stroke-dasharray="3 2.2"/>
<text x="12" y="272" font-size="20" fill="#000" text-anchor="start" >E</text>
<path d="M20.2 337 H56.5 C60.5 337 62 339 62.5 342.5 C64.5 353 74.5 359.8 87.8 359.8 C101.1 359.8 111.1 353 113.1 342.5 C113.6 339 115.1 337 119.1 337 H223.8" fill="none" stroke="#4c4c4c" stroke-width="1.15"/>
<path d="M20.2 340.7 H53 C56.8 340.7 58.2 342.3 58.6 345.5 C60.5 357 72.5 365 87.8 365 C103.1 365 115.1 357 117 345.5 C117.4 342.3 118.8 340.7 122.6 340.7 H223.8" fill="none" stroke="#4c4c4c" stroke-width="1.15"/>
<line x1="80.1" y1="311.7" x2="76" y2="305.6" stroke="#6e6e6e" stroke-width="1.05"/>
<circle cx="76" cy="305.6" r="1.4" fill="#fff" stroke="#6e6e6e" stroke-width="0.65"/>
<line x1="97.75" y1="310.2" x2="100.8" y2="304.1" stroke="#6e6e6e" stroke-width="1.05"/>
<circle cx="100.8" cy="304.1" r="1.4" fill="#fff" stroke="#6e6e6e" stroke-width="0.65"/>
<line x1="107.5" y1="326.5" x2="115.2" y2="325.5" stroke="#6e6e6e" stroke-width="1.05"/>
<circle cx="115.2" cy="325.5" r="1.4" fill="#fff" stroke="#6e6e6e" stroke-width="0.65"/>
<line x1="100.4" y1="342.7" x2="104.5" y2="348.8" stroke="#6e6e6e" stroke-width="1.05"/>
<circle cx="104.5" cy="348.8" r="1.4" fill="#fff" stroke="#6e6e6e" stroke-width="0.65"/>
<g fill="#c9c9c9" stroke="#8c8c8c" stroke-width="0.5"><circle cx="80.1" cy="311.7" r="1.45"/><circle cx="82.62" cy="311.49" r="1.45"/><circle cx="85.14" cy="311.27" r="1.45"/><circle cx="87.66" cy="311.06" r="1.45"/><circle cx="90.19" cy="310.84" r="1.45"/><circle cx="92.71" cy="310.63" r="1.45"/><circle cx="95.23" cy="310.41" r="1.45"/><circle cx="97.75" cy="310.2" r="1.45"/><circle cx="97.75" cy="310.2" r="1.45"/><circle cx="99.14" cy="312.53" r="1.45"/><circle cx="100.54" cy="314.86" r="1.45"/><circle cx="101.93" cy="317.19" r="1.45"/><circle cx="103.32" cy="319.51" r="1.45"/><circle cx="104.71" cy="321.84" r="1.45"/><circle cx="106.11" cy="324.17" r="1.45"/><circle cx="107.5" cy="326.5" r="1.45"/><circle cx="107.5" cy="326.5" r="1.45"/><circle cx="106.49" cy="328.81" r="1.45"/><circle cx="105.47" cy="331.13" r="1.45"/><circle cx="104.46" cy="333.44" r="1.45"/><circle cx="103.44" cy="335.76" r="1.45"/><circle cx="102.43" cy="338.07" r="1.45"/><circle cx="101.41" cy="340.39" r="1.45"/><circle cx="100.4" cy="342.7" r="1.45"/><circle cx="100.4" cy="342.7" r="1.45"/><circle cx="97.79" cy="342.85" r="1.45"/><circle cx="95.17" cy="343" r="1.45"/><circle cx="92.56" cy="343.15" r="1.45"/><circle cx="89.94" cy="343.3" r="1.45"/><circle cx="87.33" cy="343.45" r="1.45"/><circle cx="84.71" cy="343.6" r="1.45"/><circle cx="82.1" cy="343.75" r="1.45"/><circle cx="82.1" cy="343.75" r="1.45"/><circle cx="80.5" cy="341.43" r="1.45"/><circle cx="78.9" cy="339.11" r="1.45"/><circle cx="77.3" cy="336.79" r="1.45"/><circle cx="75.7" cy="334.46" r="1.45"/><circle cx="74.1" cy="332.14" r="1.45"/><circle cx="72.5" cy="329.82" r="1.45"/><circle cx="70.9" cy="327.5" r="1.45"/><circle cx="70.9" cy="327.5" r="1.45"/><circle cx="72.21" cy="325.24" r="1.45"/><circle cx="73.53" cy="322.99" r="1.45"/><circle cx="74.84" cy="320.73" r="1.45"/><circle cx="76.16" cy="318.47" r="1.45"/><circle cx="77.47" cy="316.21" r="1.45"/><circle cx="78.79" cy="313.96" r="1.45"/><circle cx="80.1" cy="311.7" r="1.45"/></g>
<g fill="#c9c9c9" stroke="#8c8c8c" stroke-width="0.5"><circle cx="97.75" cy="310.2" r="1.3"/><circle cx="98.41" cy="312.75" r="1.3"/><circle cx="99.08" cy="315.3" r="1.3"/><circle cx="99.74" cy="317.85" r="1.3"/><circle cx="100.4" cy="320.4" r="1.3"/><circle cx="100.4" cy="320.4" r="1.3"/><circle cx="102.18" cy="321.92" r="1.3"/><circle cx="103.95" cy="323.45" r="1.3"/><circle cx="105.72" cy="324.98" r="1.3"/><circle cx="107.5" cy="326.5" r="1.3"/><circle cx="70.9" cy="327.5" r="1.3"/><circle cx="72.94" cy="328.72" r="1.3"/><circle cx="74.98" cy="329.94" r="1.3"/><circle cx="77.02" cy="331.16" r="1.3"/><circle cx="79.06" cy="332.38" r="1.3"/><circle cx="81.1" cy="333.6" r="1.3"/><circle cx="81.1" cy="333.6" r="1.3"/><circle cx="81.35" cy="336.14" r="1.3"/><circle cx="81.6" cy="338.68" r="1.3"/><circle cx="81.85" cy="341.21" r="1.3"/><circle cx="82.1" cy="343.75" r="1.3"/></g>
<g transform="translate(89,326.8) scale(0.95)" fill="none" stroke="#b4b4b4" stroke-width="0.79"><circle cx="1.2" cy="-3.8" r="3.4"/><circle cx="1" cy="-3.6" r="2.5"/><circle cx="-1.2" cy="3.6" r="3.4"/><circle cx="-1" cy="3.8" r="2.5"/><path d="M-5 6.5 C-2 5 1 3 2.5 0 C3.5 -2 5.5 -4 7 -6"/></g>
<g fill="#111"><circle cx="80.1" cy="311.7" r="2.05"/><circle cx="97.75" cy="310.2" r="2.05"/><circle cx="107.5" cy="326.5" r="2.05"/><circle cx="100.4" cy="342.7" r="2.05"/><circle cx="82.1" cy="343.75" r="2.05"/><circle cx="70.9" cy="327.5" r="2.05"/><circle cx="100.4" cy="320.4" r="2.05"/><circle cx="81.1" cy="333.6" r="2.05"/></g>
<line x1="62.8" y1="329.4" x2="57.2" y2="329.9" stroke="#555" stroke-width="1.05"/>
<circle cx="57.2" cy="329.9" r="1.4" fill="#fff" stroke="#555" stroke-width="0.65"/>
<line x1="73.1" y1="338.4" x2="69.1" y2="341" stroke="#555" stroke-width="1.05"/>
<circle cx="69.1" cy="341" r="1.4" fill="#fff" stroke="#555" stroke-width="0.65"/>
<line x1="77.3" y1="351.25" x2="75.6" y2="356" stroke="#555" stroke-width="1.05"/>
<circle cx="75.6" cy="356" r="1.4" fill="#fff" stroke="#555" stroke-width="0.65"/>
<path d="M84.8 348.7 Q87.8 354.55 84.8 360.4 M89.6 348.7 Q86.6 354.55 89.6 360.4" fill="none" stroke="#5e4d44" stroke-width="1.3"/>
<path d="M92.7 353.8 V358.4 M94.9 353.8 V358.4" stroke="#333" stroke-width="1.3"/>
<line x1="157" y1="308.6" x2="117" y2="312.9" stroke="#6a6a6a" stroke-width="1.8" stroke-dasharray="1.9 2.3"/>
<polygon points="109.3,313.8 116,309.8 116.4,316.8" fill="#8a8a8a"/>
<line x1="167.9" y1="286.3" x2="164.4" y2="280.2" stroke="#6e6e6e" stroke-width="1.05"/>
<circle cx="164.4" cy="280.2" r="1.4" fill="#fff" stroke="#6e6e6e" stroke-width="0.65"/>
<line x1="184.75" y1="284.9" x2="187.2" y2="279.2" stroke="#6e6e6e" stroke-width="1.05"/>
<circle cx="187.2" cy="279.2" r="1.4" fill="#fff" stroke="#6e6e6e" stroke-width="0.65"/>
<line x1="160.2" y1="301.2" x2="153.7" y2="301.2" stroke="#6e6e6e" stroke-width="1.05"/>
<circle cx="153.7" cy="301.2" r="1.4" fill="#fff" stroke="#6e6e6e" stroke-width="0.65"/>
<line x1="186.8" y1="314.4" x2="190.8" y2="319.8" stroke="#6e6e6e" stroke-width="1.05"/>
<circle cx="190.8" cy="319.8" r="1.4" fill="#fff" stroke="#6e6e6e" stroke-width="0.65"/>
<line x1="186.2" y1="294.5" x2="192.3" y2="291.4" stroke="#6e6e6e" stroke-width="1.05"/>
<circle cx="192.3" cy="291.4" r="1.4" fill="#fff" stroke="#6e6e6e" stroke-width="0.65"/>
<line x1="193.7" y1="299.5" x2="199" y2="299.8" stroke="#6e6e6e" stroke-width="1.05"/>
<circle cx="199" cy="299.8" r="1.4" fill="#fff" stroke="#6e6e6e" stroke-width="0.65"/>
<g fill="#c9c9c9" stroke="#8c8c8c" stroke-width="0.5"><circle cx="167.9" cy="286.3" r="1.4"/><circle cx="170.31" cy="286.1" r="1.4"/><circle cx="172.71" cy="285.9" r="1.4"/><circle cx="175.12" cy="285.7" r="1.4"/><circle cx="177.53" cy="285.5" r="1.4"/><circle cx="179.94" cy="285.3" r="1.4"/><circle cx="182.34" cy="285.1" r="1.4"/><circle cx="184.75" cy="284.9" r="1.4"/><circle cx="184.75" cy="284.9" r="1.4"/><circle cx="186.03" cy="286.99" r="1.4"/><circle cx="187.31" cy="289.07" r="1.4"/><circle cx="188.59" cy="291.16" r="1.4"/><circle cx="189.86" cy="293.24" r="1.4"/><circle cx="191.14" cy="295.33" r="1.4"/><circle cx="192.42" cy="297.41" r="1.4"/><circle cx="193.7" cy="299.5" r="1.4"/><circle cx="193.7" cy="299.5" r="1.4"/><circle cx="192.55" cy="301.98" r="1.4"/><circle cx="191.4" cy="304.47" r="1.4"/><circle cx="190.25" cy="306.95" r="1.4"/><circle cx="189.1" cy="309.43" r="1.4"/><circle cx="187.95" cy="311.92" r="1.4"/><circle cx="186.8" cy="314.4" r="1.4"/><circle cx="186.8" cy="314.4" r="1.4"/><circle cx="184.39" cy="314.6" r="1.4"/><circle cx="181.97" cy="314.8" r="1.4"/><circle cx="179.56" cy="315" r="1.4"/><circle cx="177.14" cy="315.2" r="1.4"/><circle cx="174.73" cy="315.4" r="1.4"/><circle cx="172.31" cy="315.6" r="1.4"/><circle cx="169.9" cy="315.8" r="1.4"/><circle cx="169.9" cy="315.8" r="1.4"/><circle cx="168.51" cy="313.71" r="1.4"/><circle cx="167.13" cy="311.63" r="1.4"/><circle cx="165.74" cy="309.54" r="1.4"/><circle cx="164.36" cy="307.46" r="1.4"/><circle cx="162.97" cy="305.37" r="1.4"/><circle cx="161.59" cy="303.29" r="1.4"/><circle cx="160.2" cy="301.2" r="1.4"/><circle cx="160.2" cy="301.2" r="1.4"/><circle cx="161.3" cy="299.07" r="1.4"/><circle cx="162.4" cy="296.94" r="1.4"/><circle cx="163.5" cy="294.81" r="1.4"/><circle cx="164.6" cy="292.69" r="1.4"/><circle cx="165.7" cy="290.56" r="1.4"/><circle cx="166.8" cy="288.43" r="1.4"/><circle cx="167.9" cy="286.3" r="1.4"/></g>
<g fill="#c9c9c9" stroke="#8c8c8c" stroke-width="0.5"><circle cx="184.75" cy="284.9" r="1.3"/><circle cx="185.11" cy="287.3" r="1.3"/><circle cx="185.47" cy="289.7" r="1.3"/><circle cx="185.84" cy="292.1" r="1.3"/><circle cx="186.2" cy="294.5" r="1.3"/><circle cx="186.2" cy="294.5" r="1.3"/><circle cx="188.07" cy="295.75" r="1.3"/><circle cx="189.95" cy="297" r="1.3"/><circle cx="191.82" cy="298.25" r="1.3"/><circle cx="193.7" cy="299.5" r="1.3"/><circle cx="160.2" cy="301.2" r="1.3"/><circle cx="162.38" cy="302.55" r="1.3"/><circle cx="164.55" cy="303.9" r="1.3"/><circle cx="166.72" cy="305.25" r="1.3"/><circle cx="168.9" cy="306.6" r="1.3"/><circle cx="168.9" cy="306.6" r="1.3"/><circle cx="169.15" cy="308.9" r="1.3"/><circle cx="169.4" cy="311.2" r="1.3"/><circle cx="169.65" cy="313.5" r="1.3"/><circle cx="169.9" cy="315.8" r="1.3"/></g>
<g transform="translate(176.8,301) scale(0.9)" fill="none" stroke="#b4b4b4" stroke-width="0.83"><circle cx="1.2" cy="-3.8" r="3.4"/><circle cx="1" cy="-3.6" r="2.5"/><circle cx="-1.2" cy="3.6" r="3.4"/><circle cx="-1" cy="3.8" r="2.5"/><path d="M-5 6.5 C-2 5 1 3 2.5 0 C3.5 -2 5.5 -4 7 -6"/></g>
<g fill="#111"><circle cx="167.9" cy="286.3" r="1.95"/><circle cx="184.75" cy="284.9" r="1.95"/><circle cx="193.7" cy="299.5" r="1.95"/><circle cx="186.8" cy="314.4" r="1.95"/><circle cx="169.9" cy="315.8" r="1.95"/><circle cx="160.2" cy="301.2" r="1.95"/><circle cx="186.2" cy="294.5" r="1.95"/><circle cx="168.9" cy="306.6" r="1.95"/></g>
<path d="M213.8 300 H205.6 M206.2 300.4 L200.3 293.2 M206.2 299.6 L200.3 306.8" fill="none" stroke="#3a3af2" stroke-width="3" stroke-linecap="butt"/>
<path d="M168.9 334 V325.6 M169.3 326.4 L162 321.8 M168.5 326.4 L176 321.2" fill="none" stroke="#3a3af2" stroke-width="3" stroke-linecap="butt"/>
<path d="M176.8 321.8 Q179.8 329.4 176.8 337 M181.6 321.8 Q178.6 329.4 181.6 337" fill="none" stroke="#5e4d44" stroke-width="1.3"/>
<path d="M190.2 330.4 V337 M192.4 330.4 V337" stroke="#333" stroke-width="1.3"/>
<text x="155.6" y="363" font-size="15.8" fill="#000" text-anchor="start" >Cytoplasm</text>
<text x="102" y="396.2" font-size="15.5" fill="#1212ee" text-anchor="start" >Anti-Fiber</text>
<text x="263.4" y="271.5" font-size="20" fill="#000" text-anchor="start" >F</text>
<circle cx="324.6" cy="292.7" r="36" fill="none" stroke="#555" stroke-width="1.3"/>
<circle cx="324.6" cy="292.7" r="33.1" fill="none" stroke="#555" stroke-width="1.1"/>
<circle cx="324.6" cy="292.7" r="28.5" fill="none" stroke="#555" stroke-width="0.9"/>
<g fill="#b2b2b2" stroke="#6e6e6e" stroke-width="0.7"><circle cx="324.6" cy="271.2" r="1.75"/><circle cx="327.43" cy="272.78" r="1.75"/><circle cx="330.27" cy="274.37" r="1.75"/><circle cx="333.1" cy="275.95" r="1.75"/><circle cx="335.93" cy="277.53" r="1.75"/><circle cx="338.77" cy="279.12" r="1.75"/><circle cx="341.6" cy="280.7" r="1.75"/><circle cx="341.6" cy="280.7" r="1.75"/><circle cx="341.6" cy="284.05" r="1.75"/><circle cx="341.6" cy="287.4" r="1.75"/><circle cx="341.6" cy="290.75" r="1.75"/><circle cx="341.6" cy="294.1" r="1.75"/><circle cx="341.6" cy="297.45" r="1.75"/><circle cx="341.6" cy="300.8" r="1.75"/><circle cx="341.6" cy="300.8" r="1.75"/><circle cx="338.77" cy="302.53" r="1.75"/><circle cx="335.93" cy="304.27" r="1.75"/><circle cx="333.1" cy="306" r="1.75"/><circle cx="330.27" cy="307.73" r="1.75"/><circle cx="327.43" cy="309.47" r="1.75"/><circle cx="324.6" cy="311.2" r="1.75"/><circle cx="324.6" cy="311.2" r="1.75"/><circle cx="321.67" cy="309.47" r="1.75"/><circle cx="318.73" cy="307.73" r="1.75"/><circle cx="315.8" cy="306" r="1.75"/><circle cx="312.87" cy="304.27" r="1.75"/><circle cx="309.93" cy="302.53" r="1.75"/><circle cx="307" cy="300.8" r="1.75"/><circle cx="307" cy="300.8" r="1.75"/><circle cx="307" cy="297.45" r="1.75"/><circle cx="307" cy="294.1" r="1.75"/><circle cx="307" cy="290.75" r="1.75"/><circle cx="307" cy="287.4" r="1.75"/><circle cx="307" cy="284.05" r="1.75"/><circle cx="307" cy="280.7" r="1.75"/><circle cx="307" cy="280.7" r="1.75"/><circle cx="309.93" cy="279.12" r="1.75"/><circle cx="312.87" cy="277.53" r="1.75"/><circle cx="315.8" cy="275.95" r="1.75"/><circle cx="318.73" cy="274.37" r="1.75"/><circle cx="321.67" cy="272.78" r="1.75"/><circle cx="324.6" cy="271.2" r="1.75"/></g>
<g transform="translate(324,291.3) scale(0.82)" fill="none" stroke="#6f6f6f" stroke-width="0.79"><circle cx="-4.3" cy="3" r="3.6"/><circle cx="-4.1" cy="3.2" r="2.7"/><circle cx="4.2" cy="-3" r="3.6"/><circle cx="4" cy="-2.8" r="2.7"/><path d="M-8.5 8.5 C-5 6.5 -2 5.5 0 3.5 C2 1.5 5 1 8 -0.5 C10 -1.5 12 -3 13 -4.5"/><path d="M-7.8 9.3 C-3 7.5 1 6 4.5 3.5"/></g>
<g fill="#111"><circle cx="324.6" cy="271.2" r="2.0"/><circle cx="341.6" cy="280.7" r="2.0"/><circle cx="341.6" cy="300.8" r="2.0"/><circle cx="324.6" cy="311.2" r="2.0"/><circle cx="307" cy="300.8" r="2.0"/><circle cx="307" cy="280.7" r="2.0"/><circle cx="312.6" cy="291.3" r="2.0"/><circle cx="337.4" cy="291.3" r="2.0"/></g>
<line x1="308.9" y1="273" x2="313.96" y2="271.12" stroke="#444" stroke-width="1.2"/>
<circle cx="313.96" cy="271.12" r="1.4" fill="#fff" stroke="#444" stroke-width="0.7"/>
<line x1="338.9" y1="273.4" x2="332.82" y2="270.82" stroke="#444" stroke-width="1.2"/>
<circle cx="332.82" cy="270.82" r="1.4" fill="#fff" stroke="#444" stroke-width="0.7"/>
<line x1="301.6" y1="295.7" x2="301.6" y2="288.6" stroke="#444" stroke-width="1.2"/>
<circle cx="301.6" cy="288.6" r="1.4" fill="#fff" stroke="#444" stroke-width="0.7"/>
<line x1="346.2" y1="295.4" x2="346.2" y2="288.3" stroke="#444" stroke-width="1.2"/>
<circle cx="346.2" cy="288.3" r="1.4" fill="#fff" stroke="#444" stroke-width="0.7"/>
<line x1="314.75" y1="311.75" x2="309.3" y2="308.8" stroke="#444" stroke-width="1.2"/>
<circle cx="309.3" cy="308.8" r="1.4" fill="#fff" stroke="#444" stroke-width="0.7"/>
<path d="M328.3 319.6 L334.3 311.5 M334.3 311.5 L331.8 304 M334.3 311.5 L343.4 312.3" fill="none" stroke="#e9a272" stroke-width="3.6" stroke-linecap="butt" stroke-linejoin="round"/>
<path d="M328.3 319.6 L334.3 311.5 M334.3 311.5 L331.8 304 M334.3 311.5 L343.4 312.3" fill="none" stroke="#f6d3bb" stroke-width="0.7"/>
<circle cx="331.8" cy="304" r="1.2" fill="#dc7f42"/>
<circle cx="343.4" cy="312.3" r="1.2" fill="#dc7f42"/>
<text x="397.4" y="265.3" font-size="15.5" fill="#000" text-anchor="middle" >Early</text>
<text x="397.6" y="279.1" font-size="15.5" fill="#000" text-anchor="middle" >endosome</text>
<line x1="339" y1="328.3" x2="350.5" y2="337" stroke="#111" stroke-width="0.9"/>
<polygon points="353,338.9 347.9,337.6 350.4,334.4" fill="#111"/>
<circle cx="381.6" cy="366.8" r="34.3" fill="none" stroke="#7a7a7a" stroke-width="3" stroke-dasharray="3 3.16"/>
<g fill="#cbcbcb" stroke="#959595" stroke-width="0.6"><circle cx="382.2" cy="338.8" r="2.1"/><circle cx="385.45" cy="340.7" r="2.1"/><circle cx="388.7" cy="342.6" r="2.1"/><circle cx="391.95" cy="344.5" r="2.1"/><circle cx="395.2" cy="346.4" r="2.1"/><circle cx="398.45" cy="348.3" r="2.1"/><circle cx="401.7" cy="350.2" r="2.1"/><circle cx="401.7" cy="350.2" r="2.1"/><circle cx="401.7" cy="354.36" r="2.1"/><circle cx="401.7" cy="358.52" r="2.1"/><circle cx="401.7" cy="362.68" r="2.1"/><circle cx="401.7" cy="366.84" r="2.1"/><circle cx="401.7" cy="371" r="2.1"/><circle cx="401.7" cy="371" r="2.1"/><circle cx="398.45" cy="372.95" r="2.1"/><circle cx="395.2" cy="374.9" r="2.1"/><circle cx="391.95" cy="376.85" r="2.1"/><circle cx="388.7" cy="378.8" r="2.1"/><circle cx="385.45" cy="380.75" r="2.1"/><circle cx="382.2" cy="382.7" r="2.1"/><circle cx="382.2" cy="382.7" r="2.1"/><circle cx="378.83" cy="380.75" r="2.1"/><circle cx="375.47" cy="378.8" r="2.1"/><circle cx="372.1" cy="376.85" r="2.1"/><circle cx="368.73" cy="374.9" r="2.1"/><circle cx="365.37" cy="372.95" r="2.1"/><circle cx="362" cy="371" r="2.1"/><circle cx="362" cy="371" r="2.1"/><circle cx="362" cy="366.84" r="2.1"/><circle cx="362" cy="362.68" r="2.1"/><circle cx="362" cy="358.52" r="2.1"/><circle cx="362" cy="354.36" r="2.1"/><circle cx="362" cy="350.2" r="2.1"/><circle cx="362" cy="350.2" r="2.1"/><circle cx="365.37" cy="348.3" r="2.1"/><circle cx="368.73" cy="346.4" r="2.1"/><circle cx="372.1" cy="344.5" r="2.1"/><circle cx="375.47" cy="342.6" r="2.1"/><circle cx="378.83" cy="340.7" r="2.1"/><circle cx="382.2" cy="338.8" r="2.1"/></g>
<g transform="translate(380.8,362.6) scale(1.32)" fill="none" stroke="#8a8a8a" stroke-width="0.45"><circle cx="-4.3" cy="3" r="3.6"/><circle cx="-4.1" cy="3.2" r="2.7"/><circle cx="4.2" cy="-3" r="3.6"/><circle cx="4" cy="-2.8" r="2.7"/><path d="M-8.5 8.5 C-5 6.5 -2 5.5 0 3.5 C2 1.5 5 1 8 -0.5 C10 -1.5 12 -3 13 -4.5"/><path d="M-7.8 9.3 C-3 7.5 1 6 4.5 3.5"/></g>
<path d="M388.7 396.9 L393.6 388.5 M393.6 388.5 L391.6 381.2 M393.6 388.5 L403 389.2" fill="none" stroke="#e9a272" stroke-width="3.8" stroke-linecap="butt" stroke-linejoin="round"/>
<path d="M388.7 396.9 L393.6 388.5 M393.6 388.5 L391.6 381.2 M393.6 388.5 L403 389.2" fill="none" stroke="#f6d3bb" stroke-width="0.7"/>
<circle cx="391.6" cy="381.2" r="1.2" fill="#dc7f42"/>
<circle cx="403" cy="389.2" r="1.2" fill="#dc7f42"/>
<text x="264" y="396.2" font-size="15.5" fill="#ff6d0a" text-anchor="start" >Anti-Hexon</text>
<text x="446.2" y="387" font-size="15.5" fill="#000" text-anchor="middle" >Late</text>
<text x="446.8" y="400.6" font-size="15.5" fill="#000" text-anchor="middle" >endosome</text>
<line x1="408" y1="335.5" x2="423.27" y2="325.11" stroke="#6e6e6e" stroke-width="1.5" stroke-dasharray="1.6 2"/>
<polygon points="427.4,322.3 424.73,327.26 421.8,322.96" fill="#6e6e6e"/>
<line x1="458.2" y1="298.7" x2="469.01" y2="295.44" stroke="#6e6e6e" stroke-width="1.5" stroke-dasharray="1.6 2"/>
<polygon points="473.8,294 469.76,297.93 468.26,292.95" fill="#6e6e6e"/>
<g fill="#cbcbcb" stroke="#959595" stroke-width="0.6"><circle cx="438.1" cy="285.5" r="2"/><circle cx="441.34" cy="287.28" r="2"/><circle cx="444.58" cy="289.06" r="2"/><circle cx="447.82" cy="290.84" r="2"/><circle cx="451.06" cy="292.62" r="2"/><circle cx="454.3" cy="294.4" r="2"/><circle cx="454.3" cy="294.4" r="2"/><circle cx="454.48" cy="297.78" r="2"/><circle cx="454.66" cy="301.16" r="2"/><circle cx="454.84" cy="304.54" r="2"/><circle cx="455.02" cy="307.92" r="2"/><circle cx="455.2" cy="311.3" r="2"/><circle cx="455.2" cy="311.3" r="2"/><circle cx="451.9" cy="313.6" r="2"/><circle cx="448.6" cy="315.9" r="2"/><circle cx="445.3" cy="318.2" r="2"/><circle cx="442" cy="320.5" r="2"/><circle cx="438.7" cy="322.8" r="2"/><circle cx="438.7" cy="322.8" r="2"/><circle cx="435.56" cy="320.76" r="2"/><circle cx="432.42" cy="318.72" r="2"/><circle cx="429.28" cy="316.68" r="2"/><circle cx="426.14" cy="314.64" r="2"/><circle cx="423" cy="312.6" r="2"/><circle cx="423" cy="312.6" r="2"/><circle cx="423" cy="308.5" r="2"/><circle cx="423" cy="304.4" r="2"/><circle cx="423" cy="300.3" r="2"/><circle cx="423" cy="296.2" r="2"/><circle cx="423" cy="296.2" r="2"/><circle cx="426.02" cy="294.06" r="2"/><circle cx="429.04" cy="291.92" r="2"/><circle cx="432.06" cy="289.78" r="2"/><circle cx="435.08" cy="287.64" r="2"/><circle cx="438.1" cy="285.5" r="2"/></g>
<g transform="translate(437.6,304.4) scale(1.0)" fill="none" stroke="#8a8a8a" stroke-width="0.6"><circle cx="-4.3" cy="3" r="3.6"/><circle cx="-4.1" cy="3.2" r="2.7"/><circle cx="4.2" cy="-3" r="3.6"/><circle cx="4" cy="-2.8" r="2.7"/><path d="M-8.5 8.5 C-5 6.5 -2 5.5 0 3.5 C2 1.5 5 1 8 -0.5 C10 -1.5 12 -3 13 -4.5"/><path d="M-7.8 9.3 C-3 7.5 1 6 4.5 3.5"/></g>
<path d="M440.2 325 L441.8 333 L440 338 L441.5 341.5 M441.8 333 L446.5 339.5 L449.5 340.5 M437 327.5 L440.8 328.5" fill="none" stroke="#8c8c8c" stroke-width="1.2"/>
<rect x="438.7" y="340.5" width="3.6" height="3" fill="#e8e8e8" stroke="#8c8c8c" stroke-width="0.6" transform="rotate(-20 440.5 342)"/>
<ellipse cx="450" cy="340.2" rx="2.2" ry="1.4" fill="#9a9a9a"/>
<g fill="#cbcbcb" stroke="#959595" stroke-width="0.6"><circle cx="484.1" cy="276.9" r="2"/><circle cx="487.65" cy="276.62" r="2"/><circle cx="491.2" cy="276.33" r="2"/><circle cx="494.75" cy="276.05" r="2"/><circle cx="498.3" cy="275.77" r="2"/><circle cx="501.85" cy="275.48" r="2"/><circle cx="505.4" cy="275.2" r="2"/><circle cx="505.4" cy="275.2" r="2"/><circle cx="507.06" cy="278.28" r="2"/><circle cx="508.72" cy="281.36" r="2"/><circle cx="510.38" cy="284.44" r="2"/><circle cx="512.04" cy="287.52" r="2"/><circle cx="513.7" cy="290.6" r="2"/><circle cx="513.7" cy="290.6" r="2"/><circle cx="512.1" cy="294.25" r="2"/><circle cx="510.5" cy="297.9" r="2"/><circle cx="508.9" cy="301.55" r="2"/><circle cx="507.3" cy="305.2" r="2"/><circle cx="507.3" cy="305.2" r="2"/><circle cx="503.85" cy="305.78" r="2"/><circle cx="500.4" cy="306.37" r="2"/><circle cx="496.95" cy="306.95" r="2"/><circle cx="493.5" cy="307.53" r="2"/><circle cx="490.05" cy="308.12" r="2"/><circle cx="486.6" cy="308.7" r="2"/><circle cx="486.6" cy="308.7" r="2"/><circle cx="484.92" cy="305.56" r="2"/><circle cx="483.24" cy="302.42" r="2"/><circle cx="481.56" cy="299.28" r="2"/><circle cx="479.88" cy="296.14" r="2"/><circle cx="478.2" cy="293" r="2"/><circle cx="478.2" cy="293" r="2"/><circle cx="479.38" cy="289.78" r="2"/><circle cx="480.56" cy="286.56" r="2"/><circle cx="481.74" cy="283.34" r="2"/><circle cx="482.92" cy="280.12" r="2"/><circle cx="484.1" cy="276.9" r="2"/></g>
<g transform="translate(500.8,297) scale(0.62)" fill="none" stroke="#8a8a8a" stroke-width="0.97"><circle cx="-4.3" cy="3" r="3.6"/><circle cx="-4.1" cy="3.2" r="2.7"/><circle cx="4.2" cy="-3" r="3.6"/><circle cx="4" cy="-2.8" r="2.7"/><path d="M-8.5 8.5 C-5 6.5 -2 5.5 0 3.5 C2 1.5 5 1 8 -0.5 C10 -1.5 12 -3 13 -4.5"/><path d="M-7.8 9.3 C-3 7.5 1 6 4.5 3.5"/></g>
<path d="M507.3 305.2 L518.3 307.2" stroke="#9a9a9a" stroke-width="1.2"/>
<path d="M485.4 309.4 L482 317 L484 321.5 M482 317 L478.5 320 L478 323.5 M481.5 311.5 L485.5 312.5" fill="none" stroke="#8c8c8c" stroke-width="1.2"/>
<rect x="476.5" y="322.5" width="3.4" height="2.8" fill="#e8e8e8" stroke="#8c8c8c" stroke-width="0.6"/>
<ellipse cx="485.5" cy="322.6" rx="2.1" ry="1.4" fill="#9a9a9a"/>
<line x1="440.6" y1="349.4" x2="510.7" y2="320.3" stroke="#8b89a8" stroke-width="3.1"/>
<text transform="translate(448.4,363.3) rotate(-22.5)" font-size="13.4" fill="#000">Microtubule</text>
<path d="M522.5 326 C521.92 321.33 522.42 317.58 523.5 314 C524.58 310.42 526.58 307.25 529 304.5 C531.42 301.75 534.5 299.37 538 297.5 C541.5 295.63 545.83 294.22 550 293.3 C554.17 292.38 558.67 292.05 563 292 C567.33 291.95 571.83 292.08 576 293 C580.17 293.92 584.17 295.58 588 297.5 C591.83 299.42 595.67 301.75 599 304.5 C602.33 307.25 605.58 310.42 608 314 C610.42 317.58 612.42 322 613.5 326 C614.58 330 615.08 334 614.5 338 C613.92 342 612.25 346.33 610 350 C607.75 353.67 604.67 357.25 601 360 C597.33 362.75 592.5 365 588 366.5 C583.5 368 578.67 368.83 574 369 C569.33 369.17 564.5 368.58 560 367.5 C555.5 366.42 551 364.75 547 362.5 C543 360.25 539.33 357.42 536 354 C532.67 350.58 529.25 346.67 527 342 C524.75 337.33 523.08 330.67 522.5 326Z" fill="url(#nuc)"/>
<path d="M550.4 294.9 Q562.51 290.95 575.7 294.2 M581.2 297.1 Q593.83 301.07 602 310.3 M606 314.6 Q611.74 323.02 613.4 332.2 M613.6 338.8 Q610.37 347.86 603.1 355.3 M598.7 360.3 Q589.74 366.67 577.9 368.2 M570.8 368.2 Q558.69 367.99 548.2 361.7 M542.7 358.4 Q531.65 351.27 526.3 341 M523.4 334.4 Q521.76 325.98 523.2 317.9 M530.7 307 Q536.6 301.23 544.9 297.7 " fill="none" stroke="#505050" stroke-width="5.3" stroke-linecap="round"/>
<path d="M550.4 294.9 Q562.51 290.95 575.7 294.2 M581.2 297.1 Q593.83 301.07 602 310.3 M606 314.6 Q611.74 323.02 613.4 332.2 M613.6 338.8 Q610.37 347.86 603.1 355.3 M598.7 360.3 Q589.74 366.67 577.9 368.2 M570.8 368.2 Q558.69 367.99 548.2 361.7 M542.7 358.4 Q531.65 351.27 526.3 341 M523.4 334.4 Q521.76 325.98 523.2 317.9 M530.7 307 Q536.6 301.23 544.9 297.7 " fill="none" stroke="url(#segg)" stroke-width="3.3" stroke-linecap="round"/>
<path d="M550.4 294.9 Q562.51 290.95 575.7 294.2 M581.2 297.1 Q593.83 301.07 602 310.3 M606 314.6 Q611.74 323.02 613.4 332.2 M613.6 338.8 Q610.37 347.86 603.1 355.3 M598.7 360.3 Q589.74 366.67 577.9 368.2 M570.8 368.2 Q558.69 367.99 548.2 361.7 M542.7 358.4 Q531.65 351.27 526.3 341 M523.4 334.4 Q521.76 325.98 523.2 317.9 M530.7 307 Q536.6 301.23 544.9 297.7 " fill="none" stroke="#fafafa" stroke-width="1.3" stroke-linecap="round" opacity="0.85" transform="translate(-0.5,-0.6)"/>
<ellipse cx="524.3" cy="307.6" rx="5.6" ry="2.6" fill="#7d7d7d" transform="rotate(58 524.3 307.6)"/>
<ellipse cx="520.6" cy="315.6" rx="6" ry="2.6" fill="#7d7d7d" transform="rotate(-8 520.6 315.6)"/>
<g transform="translate(535,316.2) rotate(22.25)"><polygon points="0,-1.5 19.02,-1.5 17.52,1.5 1.5,1.5" fill="url(#hatch)"/></g>
<g transform="translate(557.7,316.2) rotate(22.34)"><polygon points="0,-1.5 21.84,-1.5 20.34,1.5 1.5,1.5" fill="url(#hatch)"/></g>
<g transform="translate(554.8,321.6) rotate(21.9)"><polygon points="0,-1.5 22.52,-1.5 21.02,1.5 1.5,1.5" fill="url(#hatch)"/></g>
<g transform="translate(553.3,327) rotate(21.61)"><polygon points="0,-1.5 21.73,-1.5 20.23,1.5 1.5,1.5" fill="url(#hatch)"/></g>
<g transform="translate(551.5,332.4) rotate(22.26)"><polygon points="0,-1.5 20.85,-1.5 19.35,1.5 1.5,1.5" fill="url(#hatch)"/></g>
<g transform="translate(549.3,338) rotate(23.16)"><polygon points="0,-1.5 20.34,-1.5 18.84,1.5 1.5,1.5" fill="url(#hatch)"/></g>
<line x1="596.5" y1="323.45" x2="599.06" y2="323.9" stroke="#555" stroke-width="0.6"/>
<line x1="592.26" y1="328.5" x2="593.15" y2="330.95" stroke="#555" stroke-width="0.6"/>
<line x1="585.76" y1="327.36" x2="584.09" y2="329.35" stroke="#555" stroke-width="0.6"/>
<line x1="583.5" y1="321.15" x2="580.94" y2="320.7" stroke="#555" stroke-width="0.6"/>
<line x1="587.74" y1="316.1" x2="586.85" y2="313.65" stroke="#555" stroke-width="0.6"/>
<line x1="594.24" y1="317.24" x2="595.91" y2="315.25" stroke="#555" stroke-width="0.6"/>
<polygon points="596.5,323.45 592.26,328.5 585.76,327.36 583.5,321.15 587.74,316.1 594.24,317.24" fill="none" stroke="#4c4c4c" stroke-width="1.2"/>
<g fill="#222"><circle cx="596.5" cy="323.45" r="0.9"/><circle cx="592.26" cy="328.5" r="0.9"/><circle cx="585.76" cy="327.36" r="0.9"/><circle cx="583.5" cy="321.15" r="0.9"/><circle cx="587.74" cy="316.1" r="0.9"/><circle cx="594.24" cy="317.24" r="0.9"/></g>
<circle cx="590" cy="322.3" r="1.3" fill="none" stroke="#888" stroke-width="0.5"/>
<line x1="595.77" y1="349.4" x2="598.36" y2="349.62" stroke="#555" stroke-width="0.6"/>
<line x1="591.18" y1="355.95" x2="592.28" y2="358.31" stroke="#555" stroke-width="0.6"/>
<line x1="583.21" y1="355.25" x2="581.72" y2="357.38" stroke="#555" stroke-width="0.6"/>
<line x1="579.83" y1="348" x2="577.24" y2="347.78" stroke="#555" stroke-width="0.6"/>
<line x1="584.42" y1="341.45" x2="583.32" y2="339.09" stroke="#555" stroke-width="0.6"/>
<line x1="592.39" y1="342.15" x2="593.88" y2="340.02" stroke="#555" stroke-width="0.6"/>
<polygon points="595.77,349.4 591.18,355.95 583.21,355.25 579.83,348 584.42,341.45 592.39,342.15" fill="none" stroke="#4c4c4c" stroke-width="1.2"/>
<g fill="#222"><circle cx="595.77" cy="349.4" r="0.9"/><circle cx="591.18" cy="355.95" r="0.9"/><circle cx="583.21" cy="355.25" r="0.9"/><circle cx="579.83" cy="348" r="0.9"/><circle cx="584.42" cy="341.45" r="0.9"/><circle cx="592.39" cy="342.15" r="0.9"/></g>
<circle cx="587.8" cy="348.7" r="1.3" fill="none" stroke="#888" stroke-width="0.5"/>
<line x1="566.9" y1="309.9" x2="580" y2="293" stroke="#333" stroke-width="0.8"/>
<polygon points="581.3,291.3 580.7,295 578.3,293.2" fill="#333"/>
<line x1="607.5" y1="308.9" x2="598.5" y2="313.8" stroke="#222" stroke-width="0.8"/>
<polygon points="596.2,315.1 598.6,312.2 600,314.8" fill="#222"/>
<path d="M565.4 253.6 l3.6 5.6 l6.1 -2 l3.6 5.6 l6.1 -2 l3.6 5.6 l6.1 -2 l3.6 5.6" fill="none" stroke="#808080" stroke-width="1.15" stroke-linejoin="round" stroke-linecap="round"/>
<path d="M560.75 258.7 l3.6 5.6 l6.1 -2 l3.6 5.6 l6.1 -2 l3.6 5.6 l6.1 -2 l3.6 5.6" fill="none" stroke="#808080" stroke-width="1.15" stroke-linejoin="round" stroke-linecap="round"/>
<path d="M557.4 264 l3.6 5.6 l6.1 -2 l3.6 5.6 l6.1 -2 l3.6 5.6 l6.1 -2 l3.6 5.6" fill="none" stroke="#808080" stroke-width="1.15" stroke-linejoin="round" stroke-linecap="round"/>
<path d="M553.6 268.9 l3.6 5.6 l6.1 -2 l3.6 5.6 l6.1 -2 l3.6 5.6 l6.1 -2 l3.6 5.6" fill="none" stroke="#808080" stroke-width="1.15" stroke-linejoin="round" stroke-linecap="round"/>
<line x1="589.8" y1="285.5" x2="593.6" y2="289.7" stroke="#111" stroke-width="1.3"/>
<polygon points="595.6,292 591.4,290.2 594.6,287.4" fill="#111"/>
<g fill="#d2d2d2" stroke="#8a8a8a" stroke-width="0.8"><circle cx="602.4" cy="290.6" r="1.7"/><circle cx="609.5" cy="293.7" r="1.7"/><circle cx="598.4" cy="297.7" r="1.7"/><circle cx="604.3" cy="295.8" r="1.7"/><circle cx="605.5" cy="301" r="1.7"/></g>
<g fill="#111"><circle cx="614.6" cy="298.75" r="2"/><circle cx="613.2" cy="304.4" r="2"/></g>
<line x1="620.3" y1="306" x2="621.67" y2="302.24" stroke="#777" stroke-width="0.9"/>
<circle cx="621.67" cy="302.24" r="1.1" fill="#fff" stroke="#777" stroke-width="0.7"/>
<line x1="617.3" y1="311.5" x2="618.67" y2="307.74" stroke="#777" stroke-width="0.9"/>
<circle cx="618.67" cy="307.74" r="1.1" fill="#fff" stroke="#777" stroke-width="0.7"/>
<text x="544" y="385.4" font-size="15.5" fill="#000" text-anchor="start" >Nucleus</text>
<rect x="0" y="0" width="6.9" height="410" fill="#000"/>
<rect x="0" y="0" width="640" height="2.9" fill="#000"/>
</svg>
</body></html>
